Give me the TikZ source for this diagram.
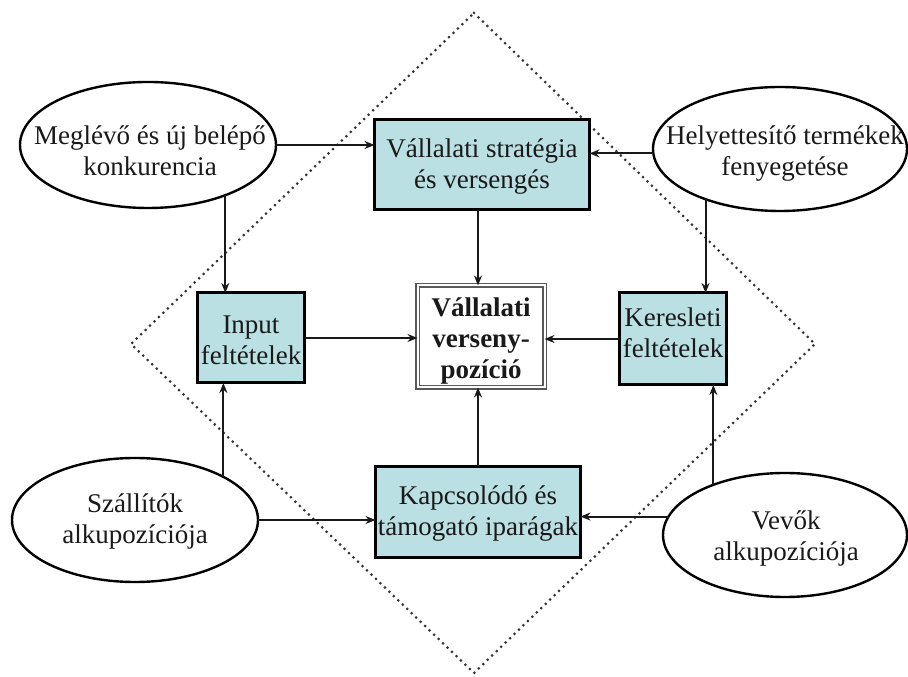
\documentclass[tikz,border=0pt]{standalone}
\usepackage{fontspec}
\setmainfont{Liberation Serif}
\usetikzlibrary{shapes.geometric,arrows.meta}
\definecolor{boxfill}{RGB}{187,224,228}
\begin{document}
\begin{tikzpicture}[x=1pt,y=1pt,
  ell/.style={draw=black, line width=2.4pt, fill=white, ellipse, inner sep=0pt, outer sep=0pt},
  fbox/.style={draw=black, line width=3pt, fill=boxfill, rectangle, inner sep=0pt, outer sep=0pt},
  txt/.style={anchor=base, inner sep=0pt, text=black!90, font=\fontsize{27}{31}\selectfont},
  arr/.style={line width=2pt, draw=black!90, -{Stealth[length=10pt,width=8pt]}},
  diam/.style={line width=3pt, dash pattern=on 0pt off 6.2pt, line cap=round, draw=black!80}
  ]
\useasboundingbox (0,0) rectangle (908,677);
% dotted diamond
\coordinate (dt) at (474,664);
\coordinate (dr) at (815,333);
\coordinate (db) at (474,4);
\coordinate (dl) at (131,333);
\draw[diam] (dt) -- (dr) -- (db) -- (dl) -- cycle;

% ellipses
\node[ell, minimum width=256, minimum height=126] (tl) at (148,532) {};
\node[ell, minimum width=254, minimum height=124] (tr) at (780,528) {};
\node[ell, minimum width=246, minimum height=124] (bl) at (135,157) {};
\node[ell, minimum width=244, minimum height=124] (br) at (785,142) {};

% boxes
\node[fbox, minimum width=215, minimum height=90] (strat) at (482,512) {};
\node[fbox, minimum width=107, minimum height=90] (input) at (251,339) {};
\node[fbox, minimum width=107, minimum height=92] (keres) at (673,338) {};
\node[fbox, minimum width=205, minimum height=91] (kapcs) at (478,165) {};
\node[draw=black!65, line width=1.5pt, double=white, double distance=2pt, fill=white,
      minimum width=127, minimum height=102, inner sep=0pt, outer sep=0pt] (vp) at (481,340.5) {};

% texts
\node[txt] (ttl) at (150,532) {\begin{tabular}[t]{@{}c@{}}Meglévő és új belépő\\konkurencia\end{tabular}};
\node[txt] (ttr) at (785,532) {\begin{tabular}[t]{@{}c@{}}Helyettesítő termékek\\fenyegetése\end{tabular}};
\node[txt] (tbl) at (135,164) {\begin{tabular}[t]{@{}c@{}}Szállítók\\alkupozíciója\end{tabular}};
\node[txt] (tbr) at (786,147) {\begin{tabular}[t]{@{}c@{}}Vevők\\alkupozíciója\end{tabular}};
\node[txt] (tstrat) at (482,519) {\begin{tabular}[t]{@{}c@{}}Vállalati stratégia\\és versengés\end{tabular}};
\node[txt] (tinput) at (251,343) {\begin{tabular}[t]{@{}c@{}}Input\\feltételek\end{tabular}};
\node[txt] (tkeres) at (673,350) {\begin{tabular}[t]{@{}c@{}}Keresleti\\feltételek\end{tabular}};
\node[txt] (tkapcs) at (478,172) {\begin{tabular}[t]{@{}c@{}}Kapcsolódó és\\támogató iparágak\end{tabular}};
\node[txt] (tvp) at (481,360) {\bfseries\begin{tabular}[t]{@{}c@{}}Vállalati\\verseny-\\pozíció\end{tabular}};

% arrows
\draw[arr] (tl.east) -- (tl.east -| strat.west);
\draw[arr] (tr.182) -- (tr.182 -| strat.east);
\draw[arr] (tl.-33) -- (tl.-33 |- input.north);
\draw[arr] (tr.214) -- (tr.214 |- keres.north);
\draw[arr] (strat.south -| kapcs.north) -- (kapcs.north |- vp.north);
\draw[arr] (input.east) -- (input.east -| vp.west);
\draw[arr] (keres.west) -- (keres.west -| vp.east);
\draw[arr] (kapcs.north) -- (kapcs.north |- vp.south);
\draw[arr] (bl.26) -- (bl.26 |- input.south);
\draw[arr] (bl.east) -- (bl.east -| kapcs.west);
\draw[arr] (br.145) -- (br.145 |- keres.south);
\draw[arr] (br.171) -- (br.171 -| kapcs.east);
\end{tikzpicture}
\end{document}
